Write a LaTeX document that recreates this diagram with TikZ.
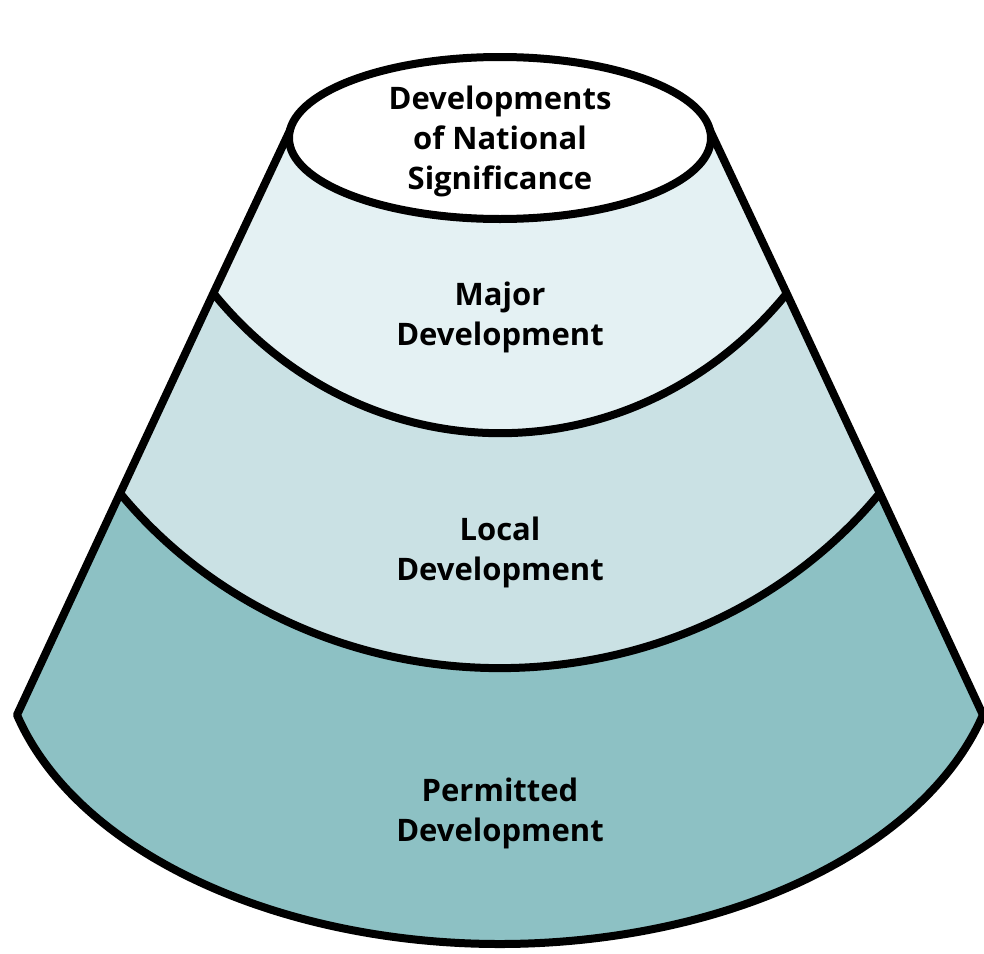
\documentclass[tikz,border=0pt]{standalone}
\usepackage{fontspec}
\setmainfont{Open Sans}
\definecolor{bandone}{HTML}{E4F1F3}
\definecolor{bandtwo}{HTML}{CAE1E4}
\definecolor{bandthree}{HTML}{8DC1C4}
\tikzset{tier/.style={font=\bfseries\fontsize{31}{40}\selectfont,align=center}}

\begin{document}
\begin{tikzpicture}[x=1pt,y=-1pt,line width=8pt,line join=round]
\useasboundingbox (0,0) rectangle (984,953);

% corners of the cone, left (t) and right (s)
\coordinate (t0) at (293,124);
\coordinate (s0) at (707,124);
\coordinate (t1) at (213.4,293.2);
\coordinate (s1) at (786.6,293.2);
\coordinate (t2) at (120.1,493.3);
\coordinate (s2) at (879.9,493.3);
\coordinate (t3) at (17,714.9);
\coordinate (s3) at (983,714.9);

\fill[bandthree] (t0)--(t1)--(t2)--(t3) arc[start angle=165,end angle=15,x radius=500,y radius=309]--(s2)--(s1)--(s0)--cycle;
\fill[bandtwo] (t0)--(t1)--(t2) arc[start angle=142.3,end angle=37.7,x radius=480,y radius=450]--(s1)--(s0)--cycle;
\fill[bandone] (t0)--(t1) arc[start angle=139,end angle=41,x radius=380,y radius=407]--(s0)--cycle;

\draw (t0)--(t1)--(t2)--(t3) arc[start angle=165,end angle=15,x radius=500,y radius=309]--(s2)--(s1)--(s0);
\draw (t1) arc[start angle=139,end angle=41,x radius=380,y radius=407];
\draw (t2) arc[start angle=142.3,end angle=37.7,x radius=480,y radius=450];
\filldraw[fill=white] (500,138) ellipse [x radius=211,y radius=81];

\node[tier] (national) at (500,141) {Developments\\of National\\Significance};
\node[tier] (major) at (500,317) {Major\\Development};
\node[tier] (local) at (500,552) {Local\\Development};
\node[tier] (permitted) at (500,813) {Permitted\\Development};
\end{tikzpicture}
\end{document}
